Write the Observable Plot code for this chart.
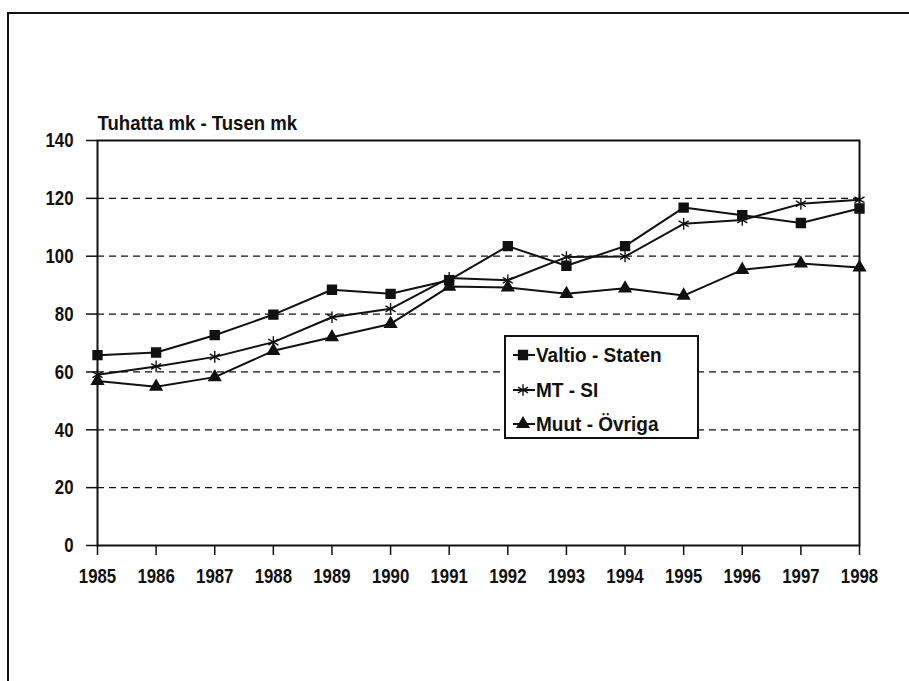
<!DOCTYPE html>
<html><head><meta charset="utf-8">
<script src="https://cdn.jsdelivr.net/npm/d3@7"></script>
<script src="https://cdn.jsdelivr.net/npm/@observablehq/plot@0.6"></script>
<style>
html,body{margin:0;padding:0;background:#fff;}
#wrap{position:relative;width:909px;height:681px;overflow:hidden;}
#outer{position:absolute;left:7px;top:12px;width:920px;height:700px;border-top:2px solid #111;border-left:2px solid #111;}
#legend{position:absolute;left:504px;top:335px;width:191px;height:100px;border:2px solid #111;background:#fff;
 font-family:"Liberation Sans",Arial,sans-serif;font-weight:bold;font-size:20px;color:#111;}
.row{position:absolute;left:6px;height:24px;display:flex;align-items:center;white-space:nowrap;}
.row span{display:inline-block;transform:scaleX(0.95);transform-origin:left center;}
</style></head>
<body><div id="wrap"><div id="outer"></div></div>
<script>
const years = [1985,1986,1987,1988,1989,1990,1991,1992,1993,1994,1995,1996,1997,1998];
const valtio = [65.8,66.7,72.7,79.8,88.4,87.0,91.7,103.5,96.7,103.5,116.8,114.2,111.5,116.5];
const mtsi   = [59.0,61.9,65.2,70.3,78.9,81.8,92.5,91.7,99.7,99.9,111.2,112.5,118.1,119.5];
const muut   = [56.9,54.9,58.2,67.3,72.0,76.6,89.5,89.2,87.0,88.9,86.4,95.3,97.5,96.1];
const seriesNames = ["Valtio - Staten","MT - SI","Muut - Övriga"];
const symbols = ["square","asterisk","triangle"];
const yTicks = [0,20,40,60,80,100,120,140];
const gridTicks = [20,40,60,80,100,120];
const yTitle = "Tuhatta mk - Tusen mk";

const allSeries = [valtio, mtsi, muut];
const data = [];
allSeries.forEach((vals, si) => vals.forEach((v, i) => data.push({year: years[i], value: v, series: seriesNames[si]})));

const font = '"Liberation Sans",Arial,sans-serif';
const ink = "#111";

const chart = Plot.plot({
  width: 909, height: 681,
  marginLeft: 97, marginRight: 50, marginTop: 140, marginBottom: 136,
  style: {fontFamily: font, fontWeight: "bold", fontSize: "21px", color: ink, background: "transparent"},
  x: {domain: [1985, 1998], ticks: years, tickFormat: d3.format("d"), label: null},
  y: {domain: [0, 140], ticks: yTicks, label: null},
  marks: [
    Plot.ruleY(gridTicks, {stroke: ink, strokeWidth: 1.2, strokeDasharray: "7,5"}),
    Plot.frame({stroke: ink, strokeWidth: 2}),
    Plot.axisX({ticks: years, tickFormat: d3.format("d"), tickSize: 10, tickPadding: 13, stroke: ink, strokeWidth: 1.5, fontSize: 21, label: null}),
    Plot.axisY({ticks: yTicks, tickSize: 11, tickPadding: 13, stroke: ink, strokeWidth: 1.5, fontSize: 21, label: null}),
    Plot.line(data, {x: "year", y: "value", z: "series", stroke: ink, strokeWidth: 2}),
    Plot.dot(data.filter(d => d.series === seriesNames[0]), {x: "year", y: "value", symbol: "square", r: 5, fill: ink, stroke: ink}),
    Plot.dot(data.filter(d => d.series === seriesNames[1]), {x: "year", y: "value", symbol: "asterisk", r: 5.5, fill: "none", stroke: ink, strokeWidth: 1.4}),
    Plot.dot(data.filter(d => d.series === seriesNames[2]), {x: "year", y: "value", symbol: "triangle", r: 4.3, fill: ink, stroke: ink}),
    Plot.text([yTitle], {frameAnchor: "top-left", dy: -11, lineAnchor: "bottom", textAnchor: "start", fontSize: 20, fill: ink, className: "ytitle"})
  ]
});
chart.style.position = "absolute";
chart.style.left = "0px";
chart.style.top = "0px";
// condense text horizontally (narrow bold face)
chart.querySelectorAll("text").forEach(t => {
  const s = t.textContent === yTitle ? 0.93 : 0.8;
  const tr = t.getAttribute("transform");
  if (tr) t.setAttribute("transform", tr + ` scale(${s},1)`);
  else {
    const x = +t.getAttribute("x") || 0, y = +t.getAttribute("y") || 0;
    t.setAttribute("transform", `translate(${x},${y}) scale(${s},1) translate(${-x},${-y})`);
  }
});
document.getElementById("wrap").appendChild(chart);

// legend
const legend = document.createElement("div");
legend.id = "legend";
const rowTops = [6, 41, 75];
seriesNames.forEach((name, i) => {
  const row = document.createElement("div");
  row.className = "row";
  row.style.top = rowTops[i] + "px";
  const sym = d3.symbol(d3["symbol" + symbols[i][0].toUpperCase() + symbols[i].slice(1)], i === 0 ? 80 : (i === 1 ? 95 : 58))();
  const fill = i === 1 ? "none" : ink;
  row.innerHTML = `<svg width="24" height="20"><line x1="1" x2="23" y1="10" y2="10" stroke="${ink}" stroke-width="2"/>` +
    `<path transform="translate(11,10)" d="${sym}" fill="${fill}" stroke="${ink}" stroke-width="1.4"/></svg><span>${name}</span>`;
  legend.appendChild(row);
});
document.getElementById("wrap").appendChild(legend);
</script></body></html>
